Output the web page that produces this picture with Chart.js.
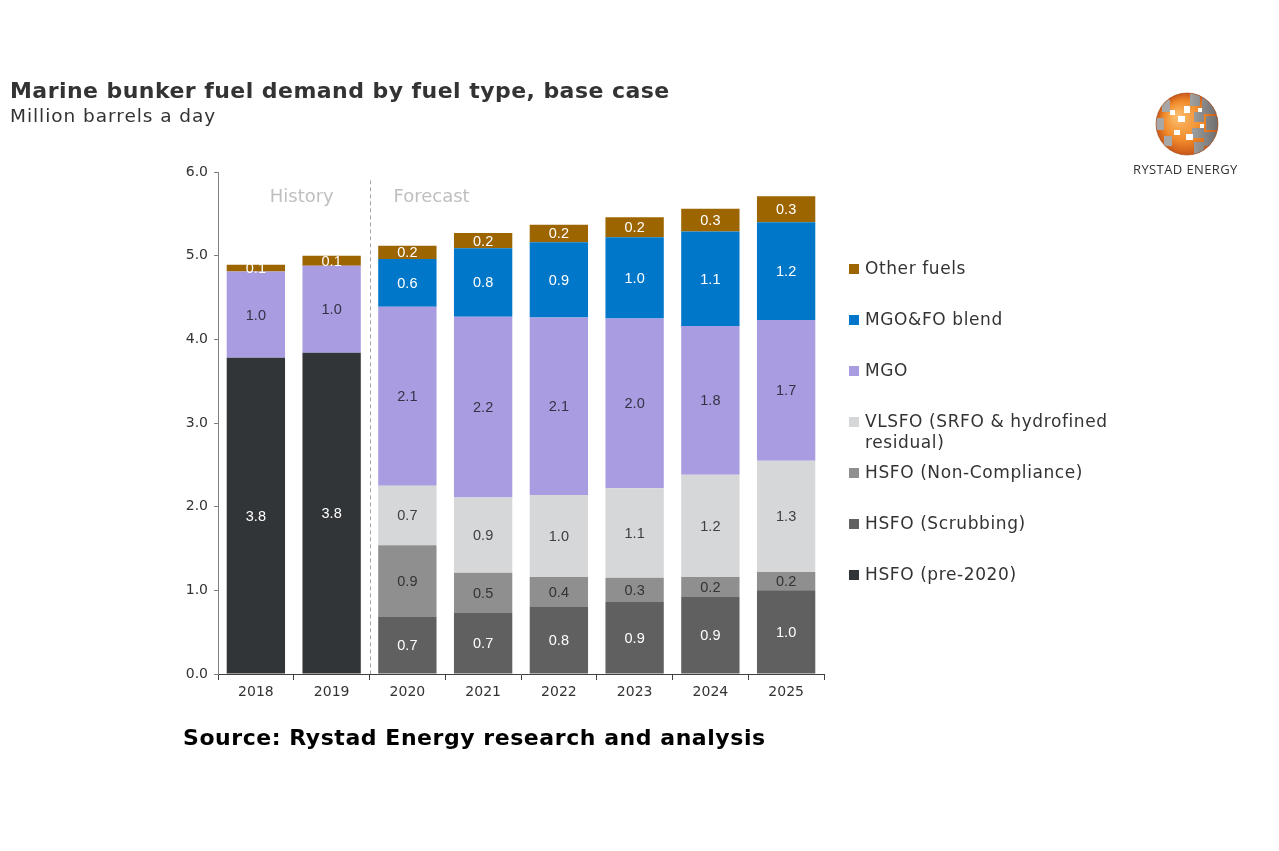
<!DOCTYPE html>
<html>
<head>
<meta charset="utf-8">
<script src="https://cdn.jsdelivr.net/npm/chart.js@4.4.0/dist/chart.umd.min.js"></script>
<style>
  html, body { margin:0; padding:0; background:#fff; }
  #wrap { position:relative; width:1279px; height:851px; overflow:hidden; background:#fff; }
  #c { position:absolute; left:0; top:0; }
  .txt { position:absolute; white-space:nowrap; color:#333; font-family:"DejaVu Sans", Verdana, sans-serif; }
  #title { left:10px; top:78px; font-size:22px; font-weight:bold; color:#333; letter-spacing:0.45px; }
  #subtitle { left:10px; top:105px; font-size:18.5px; color:#333; letter-spacing:0.95px; }
  #source { left:183px; top:725px; font-size:22px; font-weight:bold; color:#000; letter-spacing:0.55px; }
  #legend { position:absolute; left:849px; top:258px; font-family:"DejaVu Sans", Verdana, sans-serif; font-size:17px; color:#333; letter-spacing:0.6px; }
  .li { position:absolute; left:0; width:290px; line-height:21px; }
  .sw { position:absolute; left:0; top:6px; width:10px; height:10px; }
  .lt { position:absolute; left:16px; top:0; white-space:normal; width:270px; }
  #logo { position:absolute; left:1150px; top:88px; }
  #logotxt { left:1133px; top:160px; font-size:13px; color:#333; font-family:"Open Sans","DejaVu Sans",sans-serif; letter-spacing:0.4px; }
</style>
</head>
<body>
<div id="wrap">
  <canvas id="c" width="1279" height="851"></canvas>
  <div class="txt" id="title">Marine bunker fuel demand by fuel type, base case</div>
  <div class="txt" id="subtitle">Million barrels a day</div>
  <div class="txt" id="source">Source: Rystad Energy research and analysis</div>
  <div id="legend"></div>
  <canvas id="logo" width="76" height="72"></canvas>
  <div class="txt" id="logotxt">RYSTAD ENERGY</div>
</div>
<script>
const years = ["2018","2019","2020","2021","2022","2023","2024","2025"];
const hsfoPre2020     = [3.78, 3.84, null, null, null, null, null, null];
const hsfoScrubbing   = [null, null, 0.68, 0.73, 0.80, 0.86, 0.92, 1.00];
const hsfoNonCompl    = [null, null, 0.86, 0.48, 0.36, 0.29, 0.24, 0.22];
const vlsfo           = [null, null, 0.71, 0.90, 0.98, 1.07, 1.22, 1.33];
const mgo             = [1.03, 1.04, 2.14, 2.16, 2.12, 2.03, 1.78, 1.68];
const mgoFoBlend      = [null, null, 0.57, 0.82, 0.90, 0.97, 1.13, 1.17];
const otherFuels      = [0.08, 0.12, 0.16, 0.18, 0.21, 0.24, 0.27, 0.31];
const yTicks = [0,1,2,3,4,5,6];
const periodLabels = ["History", "Forecast"];

const series = [
  {label:"HSFO (pre-2020)", data:hsfoPre2020, color:"#323538", lbl:"#ffffff"},
  {label:"HSFO (Scrubbing)", data:hsfoScrubbing, color:"#606060", lbl:"#ffffff"},
  {label:"HSFO (Non-Compliance)", data:hsfoNonCompl, color:"#8f8f8f", lbl:"#333333"},
  {label:"VLSFO (SRFO & hydrofined residual)", data:vlsfo, color:"#d6d7d9", lbl:"#404040"},
  {label:"MGO", data:mgo, color:"#a99ce1", lbl:"#333344"},
  {label:"MGO&FO blend", data:mgoFoBlend, color:"#0077c8", lbl:"#ffffff"},
  {label:"Other fuels", data:otherFuels, color:"#9c6500", lbl:"#ffffff"}
];

const legendTops = [0, 51, 102, 153, 204, 255, 306];
const leg = document.getElementById('legend');
series.slice().reverse().forEach((s, i) => {
  const d = document.createElement('div');
  d.className = 'li';
  d.style.top = legendTops[i] + 'px';
  d.innerHTML = '<span class="sw" style="background:' + s.color + '"></span><span class="lt">' +
    s.label.replace('&', '&amp;') + '</span>';
  leg.appendChild(d);
});

const labelPlugin = {
  id: 'segLabels',
  afterDatasetsDraw(chart) {
    const ctx = chart.ctx;
    ctx.save();
    ctx.font = '14.5px "Liberation Sans", Arial, sans-serif';
    ctx.textAlign = 'center';
    ctx.textBaseline = 'middle';
    chart.data.datasets.forEach((ds, di) => {
      const meta = chart.getDatasetMeta(di);
      meta.data.forEach((bar, i) => {
        const v = ds.data[i];
        if (v === null || v === undefined) return;
        const cy = (bar.y + bar.base) / 2;
        ctx.fillStyle = ds.lblColor;
        ctx.fillText(v.toFixed(1), bar.x, cy + 1);
      });
    });
    ctx.restore();
  }
};

const periodPlugin = {
  id: 'period',
  afterDraw(chart) {
    const ctx = chart.ctx;
    const xs = chart.scales.x;
    const ys = chart.scales.y;
    const xDiv = (xs.getPixelForValue(1) + xs.getPixelForValue(2)) / 2;
    ctx.save();
    ctx.strokeStyle = '#a6a6a6';
    ctx.lineWidth = 1;
    ctx.setLineDash([4, 3]);
    ctx.beginPath();
    ctx.moveTo(Math.round(xDiv) + 0.5, ys.getPixelForValue(5.9));
    ctx.lineTo(Math.round(xDiv) + 0.5, ys.getPixelForValue(0));
    ctx.stroke();
    ctx.setLineDash([]);
    ctx.fillStyle = '#bfbfbf';
    ctx.font = '18px "DejaVu Sans", Verdana, sans-serif';
    ctx.textBaseline = 'middle';
    ctx.textAlign = 'center';
    const yText = ys.getPixelForValue(5.7);
    ctx.fillText(periodLabels[0], (xs.getPixelForValue(0) + xs.getPixelForValue(1)) / 2 + 8, yText);
    ctx.textAlign = 'left';
    ctx.fillText(periodLabels[1], xDiv + 24, yText);
    ctx.restore();
  }
};

new Chart(document.getElementById('c'), {
  type: 'bar',
  data: {
    labels: years,
    datasets: series.map(s => ({
      label: s.label,
      data: s.data,
      backgroundColor: s.color,
      lblColor: s.lbl,
      borderWidth: 0,
      barPercentage: 0.77,
      categoryPercentage: 1.0
    }))
  },
  options: {
    responsive: false,
    animation: false,
    events: [],
    layout: { padding: { left: 178, right: 455, top: 172, bottom: 147 } },
    plugins: { legend: { display: false }, tooltip: { enabled: false } },
    scales: {
      x: {
        stacked: true,
        afterFit(s) { s.height = 30; },
        border: { color: '#404040', width: 1 },
        grid: { display: true, drawOnChartArea: false, drawTicks: true, tickLength: 6, color: '#404040', offset: true },
        ticks: { color: '#333', font: { family: '"DejaVu Sans", Verdana, sans-serif', size: 14 }, padding: 4 }
      },
      y: {
        stacked: true,
        min: 0, max: 6,
        afterFit(s) { s.width = 40; },
        afterBuildTicks(s) { s.ticks = yTicks.map(v => ({ value: v })); },
        border: { color: '#808080', width: 1 },
        grid: { display: true, drawOnChartArea: false, drawTicks: true, tickLength: 4, color: '#808080' },
        ticks: { color: '#333', font: { family: '"DejaVu Sans", Verdana, sans-serif', size: 14 }, padding: 6,
                 callback: v => Number(v).toFixed(1) }
      }
    }
  },
  plugins: [labelPlugin, periodPlugin]
});

(function () {
  const c = document.getElementById('logo');
  const ctx = c.getContext('2d');
  const cx = 37, cy = 36, r = 31;
  ctx.save();
  ctx.beginPath(); ctx.arc(cx, cy, r, 0, Math.PI * 2); ctx.clip();
  const g = ctx.createRadialGradient(cx - 10, cy - 8, 3, cx, cy, r);
  g.addColorStop(0, '#fbb866'); g.addColorStop(0.6, '#f08a2a'); g.addColorStop(1, '#c9581a');
  ctx.fillStyle = g; ctx.fillRect(0, 0, 76, 72);
  const gg = ctx.createLinearGradient(cx, 0, cx + r, 0);
  gg.addColorStop(0, '#a7a7a7'); gg.addColorStop(1, '#6e6e6e');
  ctx.fillStyle = gg;
  const patches = [[40,6,10,12],[52,10,16,16],[44,24,10,10],[56,28,14,14],[42,40,12,10],[54,44,14,14],[44,54,10,12],
                   [12,12,8,12],[6,30,8,12],[14,48,8,10]];
  patches.forEach(p => ctx.fillRect(p[0], p[1], p[2], p[3]));
  ctx.fillStyle = '#ffffff';
  [[34,18,6,7],[28,28,7,6],[36,46,7,6],[20,22,5,5],[24,42,6,5],[48,20,4,4],[50,36,4,4]].forEach(p => ctx.fillRect(p[0], p[1], p[2], p[3]));
  ctx.restore();
  ctx.strokeStyle = 'rgba(160,70,20,0.6)'; ctx.lineWidth = 1;
  ctx.beginPath(); ctx.arc(cx, cy, r, 0, Math.PI * 2); ctx.stroke();
})();
</script>
</body>
</html>
